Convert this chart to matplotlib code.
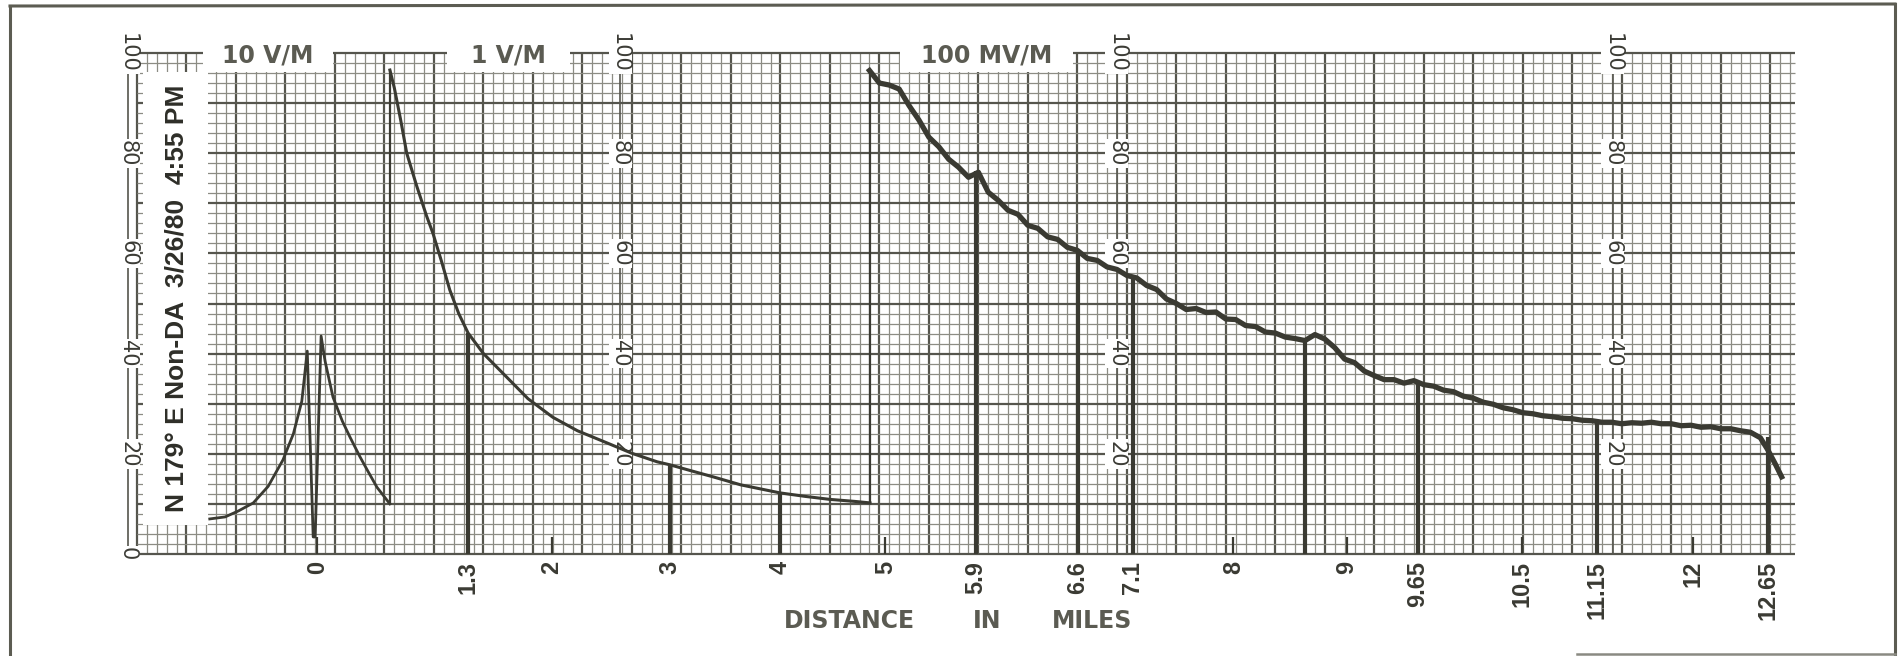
import numpy as np
import matplotlib
matplotlib.use("Agg")
import matplotlib.pyplot as plt
from matplotlib.patches import Rectangle


# Distance marks along the strip (x in small chart-paper units from the left edge of the grid)
tick_pos = [36.4, 66.9, 83.8, 107.7, 129.9, 151.2, 169.5, 190.1, 201.2,
            221.5, 244.4, 258.8, 279.8, 294.9, 314.3, 329.5]
tick_labels = ["0", "1.3", "2", "3", "4", "5", "5.9", "6.6", "7.1",
               "8", "9", "9.65", "10.5", "11.15", "12", "12.65"]

# Pen trace on the 10 V/M range
v10_x = [14.7, 17.8, 20.5, 23.5, 26.5, 29.5, 31.6, 33.3, 34.4, 35.6, 36.0,
         37.2, 38.0, 39.6, 41.5, 43.0, 45.0, 46.5, 48.5, 51.1]
v10_y = [7.0, 7.4, 8.6, 10.2, 13.5, 18.8, 24.0, 30.5, 40.5, 3.4, 3.4,
         43.5, 38.5, 31.3, 26.5, 23.4, 19.5, 16.8, 13.3, 10.0]

# Pen trace on the 1 V/M range
v1_x = [51.1, 52.0, 53.3, 54.5, 56.5, 58.5, 59.8, 61.5, 63.2, 65.0, 66.9, 70.0,
        74.7, 79.0, 84.0, 89.0, 94.9, 100.0, 105.1, 107.7, 112.0, 116.4, 122.0,
        129.9, 135.0, 140.0, 145.0, 148.1]
v1_y = [96.6, 93.0, 86.5, 80.0, 73.5, 67.5, 64.0, 58.5, 52.7, 48.0, 44.1, 40.0,
        35.3, 31.0, 27.3, 24.6, 22.2, 20.1, 18.4, 17.8, 16.6, 15.4, 13.8,
        12.2, 11.5, 10.9, 10.5, 10.2]

# Pen trace on the 100 MV/M range (noisy)
mv100_x = [148, 150, 152, 154, 156, 158, 160, 162, 164, 166, 168, 170, 172, 174,
           176, 178, 180, 182, 184, 186, 188, 190, 192, 194, 196, 198, 200, 202,
           204, 206, 208, 210, 212, 214, 216, 218, 220, 222, 224, 226, 228, 230,
           232, 234, 236, 238, 240, 242, 244, 246, 248, 250, 252, 254, 256, 258,
           260, 262, 264, 266, 268, 270, 272, 274, 276, 278, 280, 282, 284, 286,
           288, 290, 292, 294, 296, 298, 300, 302, 304, 306, 308, 310, 312, 314,
           316, 318, 320, 322, 324, 326, 328, 329.5, 331, 332.3]
mv100_y = [96.5, 94.0, 93.6, 92.8, 89.5, 86.6, 83.2, 81.3, 78.8, 77.2, 75.2, 76.2,
           72.2, 70.6, 68.6, 67.8, 65.6, 65.0, 63.3, 62.8, 61.2, 60.6, 59.0, 58.6,
           57.3, 56.8, 55.6, 55.1, 53.6, 52.8, 50.9, 50.0, 48.8, 49.0, 48.2, 48.3,
           46.9, 46.8, 45.6, 45.4, 44.3, 44.1, 43.3, 43.0, 42.6, 43.8, 42.9, 41.2,
           38.9, 38.2, 36.5, 35.6, 34.8, 34.8, 34.1, 34.6, 33.8, 33.5, 32.7, 32.4,
           31.5, 31.1, 30.3, 29.9, 29.2, 28.8, 28.2, 28.0, 27.6, 27.4, 27.1, 27.0,
           26.7, 26.6, 26.3, 26.3, 26.0, 26.2, 26.1, 26.3, 26.0, 26.0, 25.6, 25.7,
           25.3, 25.4, 25.0, 25.0, 24.6, 24.3, 23.2, 20.8, 18.0, 15.4]

# Event marker lines drawn by the pen (position, reading at the top)
mark_x = [66.9, 107.7, 129.9, 169.5, 190.1, 201.2, 236.0, 258.8, 294.9, 329.5]
mark_top = [44.1, 17.8, 12.2, 76.4, 60.5, 55.4, 42.6, 34.6, 26.6, 23.3]

# Printed chart-paper scales
scale_values = [100, 80, 60, 40, 20]
range_names = ["10 V/M", "1 V/M", "100 MV/M"]
note = "N 179\u00b0 E Non-DA  3/26/80  4:55 PM"

ink = "#3a3a32"
gray_text = "#5b5b52"

fig = plt.figure(figsize=(18.99, 6.56), dpi=100)
ax = fig.add_axes([137 / 1899, 102 / 656, 1658 / 1899, 501 / 656])
ax.set_xlim(0, 335)
ax.set_ylim(0, 100)
for s in ax.spines.values():
    s.set_visible(False)

# Chart paper grid
minor = np.arange(0, 336, 2)
ax.vlines(minor[minor % 10 != 0], 0, 100, color="#8c8c84", lw=0.9, zorder=1, clip_on=False)
ax.vlines(minor[minor % 10 == 0], 0, 100, color="#55554d", lw=1.6, zorder=1, clip_on=False)
rows = np.arange(0, 101, 2)
ax.hlines(rows[rows % 10 != 0], 0, 335, color="#8c8c84", lw=0.9, zorder=1, clip_on=False)
ax.hlines(rows[rows % 10 == 0], 0, 335, color="#55554d", lw=1.6, zorder=1, clip_on=False)

# Paper scale columns
for sx in [-1.8, 97.6, 198.0, 298.2]:
    ax.vlines(sx, 0, 100, color="#55554d", lw=1.2, zorder=2, clip_on=False)
    vals = scale_values + [0] if sx < 0 else scale_values
    for v in vals:
        ax.text(sx, v, str(v), rotation=-90, ha="center", va="center",
                fontsize=15, color="#3c3c36", zorder=3, clip_on=False,
                bbox=dict(fc="white", ec="none", pad=1))

# White label patches
ax.add_patch(Rectangle((1.2, 5.8), 13.1, 90.4, fc="white", ec="none", zorder=2))
ax.text(7.9, 51, note, rotation=90, ha="center", va="center", fontsize=19,
        fontweight="bold", family="Liberation Sans", color="#2e2e28", zorder=3)

for name, (x0, x1) in zip(range_names, [(13.3, 39.6), (62.6, 87.5), (154.1, 189.1)]):
    ax.add_patch(Rectangle((x0, 96.2), x1 - x0, 8, fc="white", ec="none",
                           zorder=2, clip_on=False))
    ax.text((x0 + x1) / 2, 99.6, name, ha="center", va="center", fontsize=17,
            fontweight="bold", color=gray_text, zorder=3, clip_on=False)

# Pen traces and jumps between ranges
ax.plot(v10_x, v10_y, color=ink, lw=2.0, zorder=5)
ax.plot(v1_x, v1_y, color=ink, lw=2.2, zorder=5)
ax.plot(mv100_x, mv100_y, color=ink, lw=3.8, zorder=5)
ax.vlines([v10_x[-1], v1_x[-1]], [v10_y[-1], v1_y[-1]], [v1_y[0], mv100_y[0]],
          color=ink, lw=1.6, zorder=4)

# Event marks
ax.vlines(mark_x, 0, mark_top, color=ink, lw=3.0, zorder=4)

# Distance axis
ax.set_yticks([])
ax.set_xticks(tick_pos)
ax.set_xticklabels(tick_labels, rotation=90, fontsize=17, fontweight="bold",
                   family="Liberation Sans", color="#3a3a33")
ax.tick_params(axis="x", direction="in", length=12, width=1.6, color=ink, pad=5)

for word, px in [("DISTANCE", 849), ("IN", 987), ("MILES", 1092)]:
    fig.text(px / 1899, 1 - 621 / 656, word, ha="center", va="center",
             fontsize=17, fontweight="bold", color=gray_text)

# Scan frame
frame = dict(color="#5c5c52", lw=2.2)
fig.add_artist(plt.Line2D([10 / 1899, 1895 / 1899], [1 - 6 / 656, 1 - 4 / 656], **frame))
fig.add_artist(plt.Line2D([10 / 1899, 10 / 1899], [1 - 6 / 656, 0], **frame))
fig.add_artist(plt.Line2D([1895 / 1899, 1895 / 1899], [1 - 4 / 656, 2 / 656], **frame))
fig.add_artist(plt.Line2D([1577 / 1899, 1895 / 1899], [2 / 656, 2 / 656], color="#8a8a82", lw=1.8))

fig.savefig("out.png", dpi=100)
